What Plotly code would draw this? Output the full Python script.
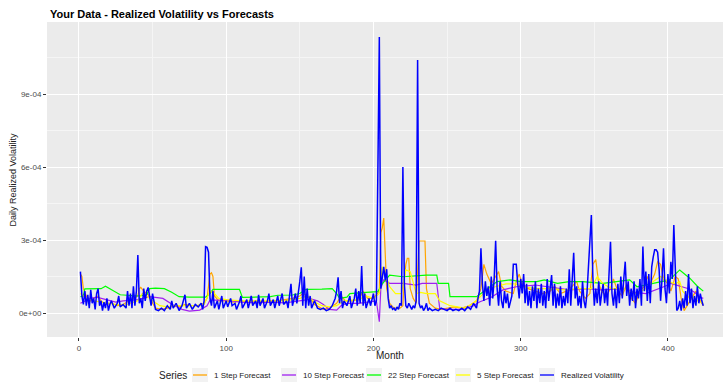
import plotly.graph_objects as go

# values in units of 1e-4
realized = [(1,1.7),(2,0.7),(3,0.35),(4,0.9),(5,0.3),(6,0.75),(7,0.2),(8,0.95),(9,0.4),(10,0.6),(11,0.15),(12,0.8),(13,1.0),(14,0.3),(15,0.5),(16,0.1),(17,0.45),(18,0.2),(19,0.6),(20,0.1),(21,0.35),(22,0.5),(24,0.2),(26,0.4),(27,0.7),(28,0.25),(30,0.35),(32,0.2),(33,0.9),(34,0.3),(35,0.8),(36,0.2),(37,1.1),(38,0.3),(39,0.9),(40,2.38),(41,0.4),(42,0.6),(43,0.2),(44,1.0),(45,0.5),(46,0.9),(47,1.05),(48,0.6),(49,0.3),(50,0.8),(52,0.15),(54,0.1),(56,0.2),(58,0.1),(60,0.3),(62,0.15),(63,0.5),(64,0.2),(66,0.4),(68,0.1),(70,0.3),(72,0.75),(73,0.2),(75,0.4),(77,0.15),(79,0.35),(81,0.25),(83,0.4),(84,0.15),(85,0.5),(86,2.73),(87,2.7),(88,2.5),(89,0.6),(90,0.3),(91,0.9),(92,0.2),(94,0.5),(95,0.15),(97,0.7),(98,0.2),(100,0.5),(101,0.25),(103,0.6),(104,0.3),(106,0.4),(107,0.15),(109,0.45),(110,0.7),(111,0.2),(113,0.4),(114,0.55),(115,0.2),(117,0.7),(118,0.3),(120,0.5),(121,0.2),(122,0.75),(123,0.3),(125,0.6),(126,0.2),(128,0.5),(129,0.8),(130,0.3),(132,0.55),(133,0.2),(135,0.7),(136,0.3),(138,0.8),(139,0.35),(141,0.5),(142,0.2),(144,1.2),(145,0.3),(147,0.8),(148,0.4),(150,1.3),(151,1.88),(152,0.3),(153,1.5),(154,0.2),(155,1.0),(156,0.3),(157,0.7),(158,0.2),(160,0.5),(162,0.2),(164,0.15),(166,0.2),(168,0.1),(170,0.15),(172,0.3),(174,0.6),(175,0.9),(176,1.47),(177,0.4),(178,0.9),(179,0.2),(180,0.5),(182,0.3),(184,0.7),(185,0.2),(187,0.6),(188,1.0),(189,0.3),(190,0.9),(191,0.4),(192,1.93),(193,0.3),(194,0.8),(195,0.2),(197,0.6),(198,0.3),(200,0.8),(201,0.3),(202,0.5),(203,5.8),(204,11.34),(205,1.0),(206,1.5),(207,1.9),(208,1.35),(209,1.8),(210,0.6),(211,0.2),(212,0.3),(213,0.15),(214,0.2),(215,0.1),(216,0.25),(217,0.15),(218,0.4),(219,0.3),(220,6.0),(221,1.2),(222,0.3),(223,0.2),(224,0.4),(225,0.3),(226,0.15),(227,0.3),(228,0.2),(229,0.5),(230,10.4),(231,0.4),(232,0.2),(233,0.3),(234,0.1),(235,0.2),(236,0.4),(237,0.1),(238,0.2),(240,0.1),(242,0.15),(244,0.1),(246,0.2),(248,0.15),(250,0.1),(252,0.2),(254,0.1),(256,0.15),(258,0.1),(260,0.2),(262,0.1),(264,0.25),(266,0.15),(268,0.4),(270,0.2),(271,0.6),(272,0.9),(273,2.66),(274,1.2),(275,0.5),(276,1.3),(277,0.7),(278,1.1),(279,0.3),(280,1.5),(281,0.6),(282,1.4),(283,2.97),(284,1.0),(285,0.3),(286,1.3),(287,0.5),(288,0.2),(289,0.9),(290,0.4),(291,0.8),(292,0.2),(294,0.7),(295,2.0),(296,2.0),(297,2.0),(298,1.2),(299,0.6),(300,1.4),(301,0.8),(302,1.6),(303,0.4),(304,1.2),(305,0.3),(306,0.9),(307,0.2),(308,1.1),(309,0.5),(310,1.3),(311,0.2),(312,1.0),(313,0.4),(314,1.2),(315,0.3),(316,0.9),(317,0.2),(318,1.4),(319,0.5),(320,1.0),(321,1.56),(322,0.3),(323,1.2),(324,0.2),(325,0.8),(326,0.3),(327,1.1),(328,0.2),(329,0.7),(330,0.3),(331,1.0),(332,0.4),(333,1.8),(334,0.3),(335,1.4),(336,2.48),(337,0.6),(338,1.1),(339,0.3),(340,0.7),(341,0.2),(342,1.3),(343,0.5),(344,0.2),(345,0.8),(346,1.9),(347,2.6),(348,4.03),(349,1.5),(350,0.3),(351,1.0),(352,0.4),(353,1.3),(354,0.3),(355,0.8),(356,1.2),(357,0.4),(358,1.0),(359,0.3),(360,1.6),(361,2.93),(362,0.8),(363,0.3),(364,1.0),(365,0.2),(366,1.2),(367,0.4),(368,1.5),(369,0.6),(370,1.4),(371,2.11),(372,0.7),(373,1.3),(374,0.3),(375,1.0),(376,0.5),(377,1.3),(378,0.2),(379,1.0),(380,0.6),(381,1.4),(382,0.3),(383,2.73),(384,0.9),(385,1.7),(386,0.5),(387,1.6),(388,0.4),(389,1.9),(390,2.3),(391,2.6),(392,2.6),(393,2.5),(394,1.8),(395,0.5),(396,1.4),(397,2.66),(398,1.0),(399,0.4),(400,1.6),(401,0.8),(402,2.1),(403,1.4),(404,3.62),(405,1.6),(406,0.1),(407,0.2),(408,0.5),(409,0.1),(410,0.6),(411,0.2),(412,0.9),(413,0.3),(414,1.6),(415,0.4),(416,1.0),(417,0.2),(418,0.7),(419,0.3),(420,1.1),(421,0.4),(422,0.8),(423,0.5),(424,0.3)]

step1 = [(1,1.6),(2,1.5),(3,1.0),(5,0.7),(8,0.5),(10,0.6),(13,0.7),(15,0.5),(18,0.35),(22,0.4),(26,0.3),(30,0.35),(34,0.5),(37,0.6),(40,0.7),(41,1.0),(42,1.05),(44,0.9),(46,0.8),(48,0.7),(50,0.4),(52,0.2),(56,0.15),(60,0.2),(64,0.3),(68,0.25),(72,0.35),(76,0.3),(80,0.3),(85,0.4),(87,0.6),(89,1.6),(90,1.65),(91,1.5),(92,0.7),(95,0.5),(100,0.5),(105,0.45),(110,0.5),(115,0.45),(120,0.5),(125,0.45),(130,0.5),(135,0.5),(140,0.55),(145,0.6),(150,0.7),(152,0.8),(154,0.75),(157,0.6),(160,0.35),(163,0.25),(166,0.15),(170,0.2),(175,0.4),(178,0.7),(181,0.5),(185,0.5),(190,0.55),(193,0.9),(196,0.6),(200,0.6),(204,0.9),(205,3.3),(206,3.5),(207,3.9),(208,2.5),(209,1.0),(211,0.4),(214,0.2),(218,0.2),(220,0.3),(221,1.4),(222,2.0),(223,2.25),(224,2.25),(225,1.0),(227,0.6),(229,0.4),(231,2.96),(235,2.96),(236,1.0),(238,0.4),(242,0.2),(246,0.15),(250,0.2),(255,0.25),(260,0.2),(265,0.3),(270,0.5),(273,1.0),(275,2.0),(277,1.6),(280,1.2),(283,1.5),(285,1.7),(287,1.1),(290,0.9),(295,0.8),(297,1.3),(299,1.6),(301,1.2),(305,1.0),(310,0.9),(315,0.8),(320,0.9),(323,1.1),(327,0.8),(331,0.9),(335,1.1),(338,1.3),(340,0.9),(344,0.6),(347,0.8),(349,2.0),(351,2.2),(353,1.2),(355,0.9),(358,0.7),(361,1.0),(363,1.4),(366,0.9),(369,0.7),(372,1.2),(375,0.6),(378,0.4),(381,0.9),(384,1.1),(386,1.5),(388,1.2),(391,1.6),(393,2.1),(395,2.0),(397,1.4),(400,1.2),(402,0.9),(405,1.5),(407,1.4),(409,0.6),(411,0.1),(413,0.3),(416,0.6),(419,0.9),(421,0.6),(424,0.3)]

step5 = [(1,0.8),(5,0.6),(10,0.5),(15,0.45),(20,0.4),(25,0.35),(30,0.3),(35,0.4),(40,0.5),(43,0.8),(46,0.7),(50,0.5),(55,0.3),(60,0.25),(65,0.3),(70,0.3),(75,0.3),(80,0.3),(85,0.35),(89,0.9),(92,0.8),(95,0.6),(100,0.55),(110,0.5),(120,0.5),(130,0.5),(140,0.5),(150,0.6),(155,0.7),(160,0.45),(165,0.3),(170,0.25),(175,0.3),(180,0.5),(190,0.55),(195,0.7),(200,0.6),(204,0.8),(206,1.9),(208,1.6),(211,1.08),(215,0.8),(219,0.8),(222,1.77),(225,1.7),(229,0.8),(232,0.85),(236,0.8),(242,0.8),(245,0.5),(252,0.3),(262,0.2),(268,0.4),(273,0.7),(278,1.0),(284,1.1),(290,1.2),(296,1.2),(300,1.1),(310,1.0),(320,1.0),(330,0.95),(340,1.0),(348,1.0),(352,1.5),(356,1.2),(362,1.0),(370,1.0),(378,0.8),(385,1.0),(390,1.3),(395,1.5),(400,1.3),(405,1.2),(408,1.3),(410,0.9),(415,0.6),(417,0.67),(420,0.5),(424,0.4)]

step10 = [(1,0.4),(4,0.5),(8,0.6),(12,0.65),(18,0.55),(25,0.45),(30,0.5),(40,0.55),(48,0.67),(57,0.6),(64,0.33),(70,0.15),(75,0.08),(82,0.12),(87,0.3),(89,0.53),(100,0.53),(110,0.45),(120,0.42),(130,0.45),(140,0.42),(150,0.5),(158,0.57),(162,0.5),(166,0.35),(170,0.15),(175,0.12),(178,0.3),(182,0.4),(190,0.4),(198,0.45),(202,0.5),(204,-0.36),(205,1.0),(207,1.36),(211,1.22),(220,1.22),(229,1.15),(233,1.22),(243,1.22),(245,0.19),(250,0.15),(260,0.15),(268,0.3),(272,0.45),(280,0.65),(288,0.95),(297,1.08),(310,1.15),(325,1.0),(333,0.95),(345,1.0),(355,0.95),(370,1.0),(378,0.85),(385,0.8),(392,0.95),(398,1.1),(402,1.22),(408,1.1),(414,1.0),(418,0.85),(422,0.65),(424,0.6)]

step22 = [(1,0.67),(3,0.7),(4,0.99),(10,1.0),(15,1.0),(18,1.1),(22,0.95),(28,0.75),(35,0.72),(41,0.7),(46,0.75),(48,1.0),(52,1.02),(58,1.0),(63,0.85),(68,0.67),(75,0.65),(80,0.64),(86,0.65),(89,0.8),(91,0.97),(100,0.97),(109,0.97),(111,0.64),(120,0.65),(130,0.67),(135,0.73),(145,0.74),(150,0.8),(154,0.97),(165,0.98),(172,1.0),(175,0.8),(177,0.6),(182,0.65),(184,0.8),(195,0.85),(203,0.88),(206,1.2),(211,1.56),(220,1.49),(229,1.53),(236,1.56),(243,1.56),(244,1.22),(251,1.22),(252,0.67),(260,0.67),(270,0.67),(273,0.8),(280,1.1),(284,1.29),(293,1.36),(300,1.29),(311,1.29),(316,1.36),(325,1.22),(333,1.29),(342,1.29),(356,1.22),(365,1.29),(374,1.36),(379,1.08),(390,1.22),(401,1.36),(408,1.77),(411,1.63),(415,1.42),(420,1.1),(424,0.9)]

series_names = ["1 Step Forecast", "10 Step Forecast", "22 Step Forecast", "5 Step Forecast", "Realized Volatility"]
series_colors = ["#FFA500", "#A020F0", "#00FF00", "#FFFF00", "#0000FF"]
series_data = [step1, step10, step22, step5, realized]
series_widths = [1.2, 1.2, 1.2, 1.2, 1.5]

y_tick_vals = [0, 3e-4, 6e-4, 9e-4]
y_tick_text = ["0e+00", "3e-04", "6e-04", "9e-04"]
x_tick_vals = [0, 100, 200, 300, 400]

SCALE = 1e-4

fig = go.Figure()
for name, color, data, w in zip(series_names, series_colors, series_data, series_widths):
    fig.add_trace(go.Scatter(
        x=[m for m, _ in data], y=[v * SCALE for _, v in data],
        mode="lines", name=name, line=dict(color=color, width=w), showlegend=False))

txt = "#4D4D4D"
L, T, PW, PH = 47, 22, 676, 315


def px_x(p):
    return (p - L) / PW


def px_y(p):
    return 1 - (p - T) / PH


annotations = [
    dict(text="<b>Your Data - Realized Volatility vs Forecasts</b>", xref="paper", yref="paper",
         x=px_x(48), y=px_y(14), xanchor="left", yanchor="middle", showarrow=False,
         font=dict(size=11, color="black")),
    dict(text="Month", xref="paper", yref="paper", x=px_x(390), y=px_y(355),
         xanchor="center", yanchor="middle", showarrow=False, font=dict(size=10, color="#222")),
    dict(text="Daily Realized Volatility", xref="paper", yref="paper", x=px_x(12), y=0.5,
         xanchor="center", yanchor="middle", textangle=-90, showarrow=False,
         font=dict(size=9, color="#222")),
]
shapes = []
# manual legend (ggplot style keys)
legend_key_left = [192, 281, 366, 455, 539]
KEY_W, LEG_Y = 16, 375
annotations.append(dict(text="Series", xref="paper", yref="paper", x=px_x(157), y=px_y(LEG_Y),
                        xanchor="left", yanchor="middle", showarrow=False, font=dict(size=10, color="#222")))
for name, color, kx in zip(series_names, series_colors, legend_key_left):
    shapes.append(dict(type="rect", xref="paper", yref="paper", x0=px_x(kx), x1=px_x(kx + KEY_W),
                       y0=px_y(LEG_Y + 7), y1=px_y(LEG_Y - 7), fillcolor="#F2F2F2", line=dict(width=0),
                       layer="above"))
    shapes.append(dict(type="line", xref="paper", yref="paper", x0=px_x(kx + 1), x1=px_x(kx + KEY_W - 1),
                       y0=px_y(LEG_Y), y1=px_y(LEG_Y), line=dict(color=color, width=1.3), layer="above"))
    annotations.append(dict(text=name, xref="paper", yref="paper", x=px_x(kx + KEY_W + 4), y=px_y(LEG_Y),
                            xanchor="left", yanchor="middle", showarrow=False,
                            font=dict(size=8, color="#222")))

fig.update_layout(
    width=723, height=382,
    margin=dict(l=L, r=0, t=T, b=382 - T - PH, autoexpand=False),
    paper_bgcolor="white", plot_bgcolor="#EBEBEB",
    font=dict(family="Liberation Sans, Arial, sans-serif", size=8, color=txt),
    showlegend=False,
    annotations=annotations,
    shapes=shapes,
)
fig.update_xaxes(range=[-21.7, 437.4], tickvals=x_tick_vals, ticks="outside", ticklen=3,
                 tickcolor="#333", showgrid=True, gridcolor="white", gridwidth=1, zeroline=False,
                 showline=False, automargin=False,
                 minor=dict(dtick=50, tick0=0, showgrid=True, gridcolor="#F5F5F5", gridwidth=0.6))
fig.update_yaxes(range=[-0.986e-4, 11.96e-4], tickvals=y_tick_vals, ticktext=y_tick_text, ticks="outside",
                 ticklen=3, tickcolor="#333", showgrid=True, gridcolor="white", gridwidth=1, zeroline=False,
                 showline=False, automargin=False,
                 minor=dict(dtick=1.5e-4, tick0=0, showgrid=True, gridcolor="#F5F5F5", gridwidth=0.6))

fig.write_html("out.html", config={"displayModeBar": False},
               post_script="document.body.style.margin='0px';")
